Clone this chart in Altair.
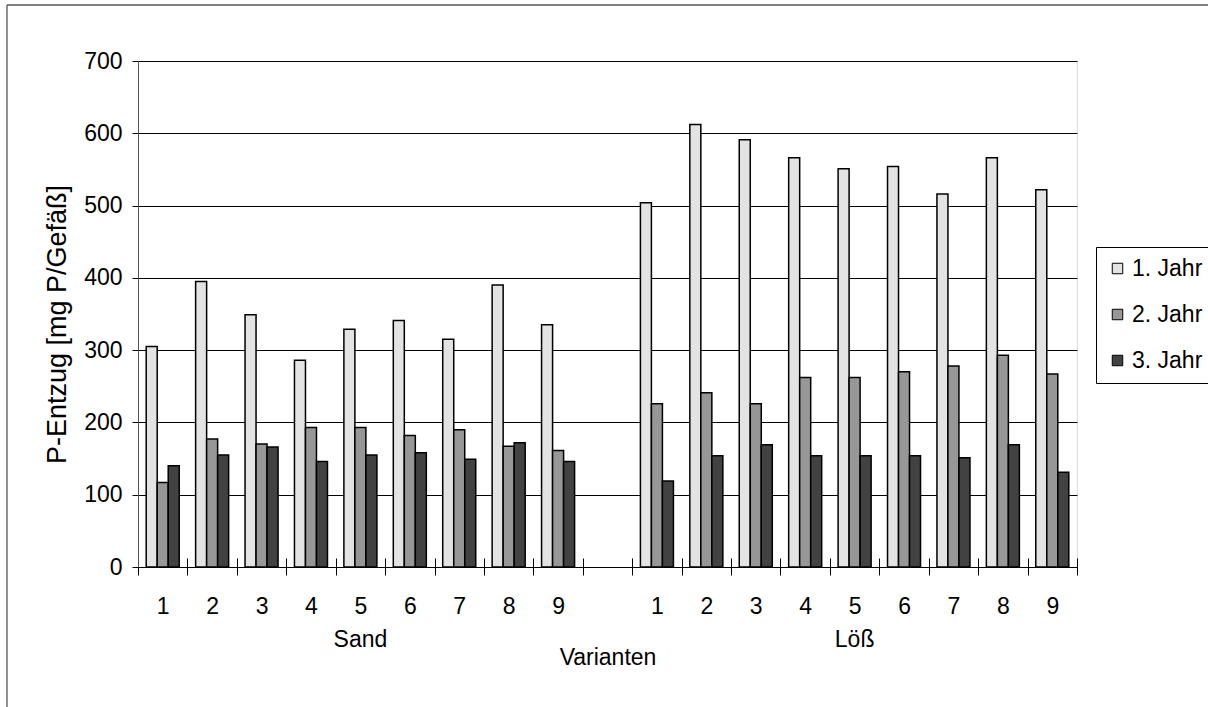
import altair as alt
import pandas as pd

# ---- data -------------------------------------------------------------
sand_keys = [f"S{i}" for i in range(1, 10)]
loess_keys = [f"L{i}" for i in range(1, 10)]
categories = sand_keys + ["G"] + loess_keys   # "G" = empty gap slot
series = ["1. Jahr", "2. Jahr", "3. Jahr"]
colors = ["#e3e3e3", "#979797", "#424242"]

sand_j1 = [305, 395, 349, 286, 329, 341, 315, 390, 335]
sand_j2 = [117, 177, 170, 193, 193, 182, 190, 167, 161]
sand_j3 = [140, 155, 166, 146, 155, 158, 149, 172, 146]
loess_j1 = [504, 612, 591, 566, 551, 554, 516, 566, 522]
loess_j2 = [226, 241, 226, 262, 262, 270, 278, 293, 267]
loess_j3 = [119, 154, 169, 154, 154, 154, 151, 169, 131]

groups = ["Sand", "Löß"]
group_centers = ["S5", "L5"]

rows = []
for keys, vals in ((sand_keys, (sand_j1, sand_j2, sand_j3)),
                   (loess_keys, (loess_j1, loess_j2, loess_j3))):
    for s, v in zip(series, vals):
        for k, val in zip(keys, v):
            rows.append({"key": k, "series": s, "value": val})
df = pd.DataFrame(rows)
grp_df = pd.DataFrame({"key": group_centers, "grp": groups})

W, H = 939, 506
FONT = "Liberation Sans"

x_scale = alt.Scale(domain=categories, paddingInner=0, paddingOuter=0)
x_axis = alt.Axis(title="Varianten",
                  labelExpr="isString(datum.value) ? substring(datum.value, 1) : ''",
                  labelAngle=0, tickBand="extent", grid=False, domain=False,
                  offset=-9, tickSize=17, tickColor="black", tickWidth=1,
                  labelPadding=20, labelFontSize=23, labelFont=FONT,
                  labelColor="black", titleFontSize=23, titleFont=FONT,
                  titleFontWeight="normal", titleColor="black",
                  titleY=99, titleBaseline="middle")

bars = alt.Chart(df).mark_bar(stroke="black", strokeWidth=1.5).encode(
    x=alt.X("key:N", scale=x_scale, sort=categories, axis=x_axis),
    xOffset=alt.XOffset("series:N",
                        scale=alt.Scale(domain=series, paddingOuter=0.745, paddingInner=0)),
    y=alt.Y("value:Q", scale=alt.Scale(domain=[0, 700], nice=False),
            axis=alt.Axis(values=list(range(0, 701, 100)), title="P-Entzug [mg P/Gefäß]",
                          grid=True, gridColor="black", gridWidth=1,
                          domainColor="#555555", domainWidth=1,
                          tickSize=6, tickColor="black", labelPadding=10,
                          labelFontSize=23, labelFont=FONT, labelColor="black",
                          titleFontSize=27, titleFont=FONT, titleFontWeight="normal",
                          titleColor="black", titleAngle=-90, titleBaseline="middle",
                          titleX=-81, titleY=263)),
    color=alt.Color("series:N", scale=alt.Scale(domain=series, range=colors),
                    legend=alt.Legend(title=None, orient="none", legendX=958, legendY=186,
                                      symbolType="square", symbolSize=110,
                                      symbolStrokeColor="black", symbolStrokeWidth=1,
                                      labelFontSize=23, labelFont=FONT, labelColor="black",
                                      labelOffset=3, rowPadding=22, padding=10,
                                      strokeColor="black", fillColor="white")),
)

group_text = alt.Chart(grp_df).mark_text(fontSize=23, font=FONT, color="black",
                                         baseline="middle").encode(
    x=alt.X("key:N", scale=x_scale, sort=categories, axis=x_axis),
    y=alt.value(H + 73),
    text="grp:N",
)

border = alt.Chart(alt.Data(values=[{"a": 1}])).mark_rule(color="#555555", strokeWidth=1.3)
border_top = border.encode(x=alt.value(-131), x2=alt.value(1070), y=alt.value(-56))
border_left = border.encode(x=alt.value(-131), y=alt.value(-56), y2=alt.value(646))

chart = alt.layer(bars, group_text, border_top, border_left).properties(
    width=W, height=H,
    autosize=alt.AutoSizeParams(type="none"),
    padding={"left": 138, "top": 61, "right": 131, "bottom": 140},
).configure_view(stroke=None).configure(background="white")

chart.save("out.html", embed_options={"renderer": "svg", "actions": False})
